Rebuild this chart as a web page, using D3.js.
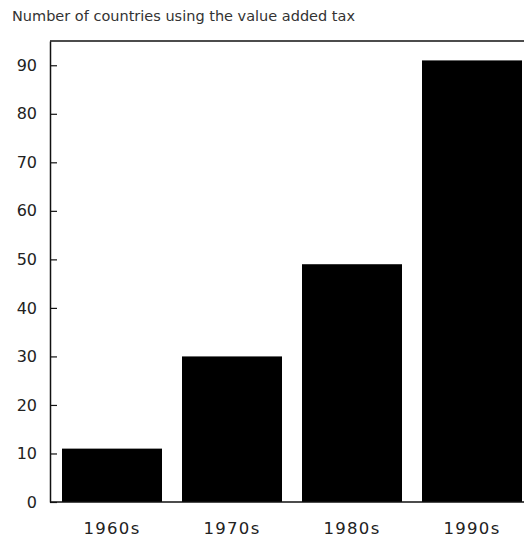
<!DOCTYPE html>
<html>
<head>
<meta charset="utf-8">
<script src="https://cdn.jsdelivr.net/npm/d3@7"></script>
<style>
  body { margin: 0; background: #fff; }
  text { font-family: "DejaVu Sans", sans-serif; fill: #222; }
</style>
</head>
<body>
<div id="chart"></div>
<script>
// Data
const decades = ["1960s", "1970s", "1980s", "1990s"];
const countries = [11, 30, 49, 91];
const yTicks = [0, 10, 20, 30, 40, 50, 60, 70, 80, 90];

const width = 524;
const height = 544;
const plotLeft = 50, plotTop = 41, plotBottom = 502, plotRight = 532;

const svg = d3.select("#chart")
  .append("svg")
  .attr("width", width)
  .attr("height", height);

// Scales
const x = d3.scaleBand()
    .domain(decades)
    .range([plotLeft + 2, plotRight])
    .paddingInner(1 / 6)
    .paddingOuter(1 / 12);

const y = d3.scaleLinear()
    .domain([0, 95])
    .range([plotBottom, plotTop]);

// Title
svg.append("text")
    .attr("x", 12)
    .attr("y", 21)
    .style("font-size", "14.5px")
    .style("fill", "#333")
    .text("Number of countries using the value added tax");

// Bars
svg.selectAll(".bar")
  .data(decades)
  .enter()
  .append("rect")
    .attr("class", "bar")
    .attr("x", d => x(d))
    .attr("y", (d, i) => y(countries[i]))
    .attr("width", x.bandwidth())
    .attr("height", (d, i) => y(0) - y(countries[i]))
    .attr("fill", "#000");

// Frame lines: top and baseline
svg.append("line")
    .attr("x1", plotLeft).attr("x2", width)
    .attr("y1", plotTop).attr("y2", plotTop)
    .attr("stroke", "#111").attr("stroke-width", 1.5);

svg.append("line")
    .attr("x1", plotLeft).attr("x2", width)
    .attr("y1", y(0)).attr("y2", y(0))
    .attr("stroke", "#111").attr("stroke-width", 1.5);

// Y axis with inward ticks
const yAxis = svg.append("g")
    .attr("transform", `translate(${plotLeft},0)`)
    .call(d3.axisLeft(y)
      .tickValues(yTicks)
      .tickSizeInner(-7)
      .tickSizeOuter(0)
      .tickPadding(13));

yAxis.select(".domain").attr("stroke", "#111").attr("stroke-width", 1.5);
yAxis.selectAll(".tick line").attr("stroke", "#111").attr("stroke-width", 1.2);
yAxis.selectAll("text")
    .style("font-size", "16px")
    .style("font-family", "DejaVu Sans, sans-serif")
    .attr("fill", "#222");

// X labels
svg.selectAll(".xlabel")
  .data(decades)
  .enter()
  .append("text")
    .attr("class", "xlabel")
    .attr("x", d => x(d) + x.bandwidth() / 2)
    .attr("y", 534)
    .attr("text-anchor", "middle")
    .style("font-size", "16.5px")
    .style("letter-spacing", "1.3px")
    .text(d => d);
</script>
</body>
</html>
